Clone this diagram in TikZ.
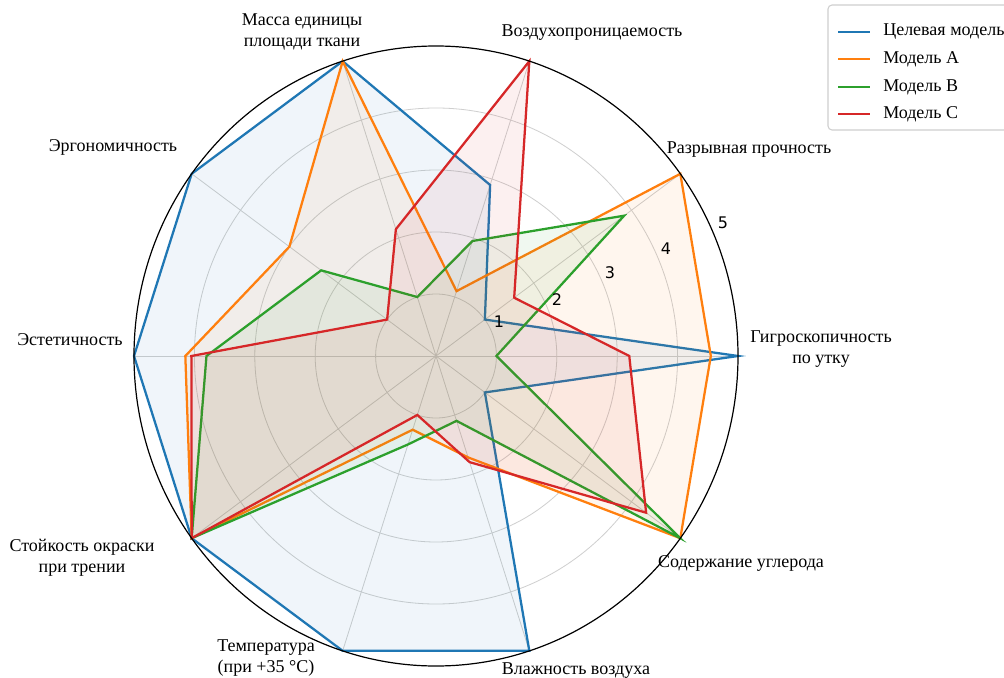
\documentclass[tikz,border=0pt]{standalone}
\usepackage{fontspec}
\setmainfont{Liberation Serif}
\newfontfamily\tickfont{DejaVu Sans}
\definecolor{cblue}{HTML}{1F77B4}
\definecolor{corange}{HTML}{FF7F0E}
\definecolor{cgreen}{HTML}{2CA02C}
\definecolor{cred}{HTML}{D62728}
\definecolor{gridc}{HTML}{CFCFCF}
\begin{document}
\begin{tikzpicture}[x=0.75pt,y=-0.75pt,
  lab/.style={font=\fontsize{13.5}{16}\selectfont, align=center, inner sep=0pt},
  tick/.style={font=\tickfont\fontsize{12}{14}\selectfont, inner sep=0pt},
  gridline/.style={draw=gridc, line width=0.6pt},
  series/.style={line width=1.7pt, line join=miter, fill opacity=0.065, draw opacity=1}]
\useasboundingbox (0,0) rectangle (1004,678);
\fill[white] (0,0) rectangle (1004,678);

\begin{scope}[shift={(436,356)}, x=45.3pt, y=46.5pt]
  \foreach \r in {1,2,3,4} \draw[gridline] (0,0) circle [radius=\r];
  \foreach \a in {0,36,...,324} \draw[gridline] (0,0) -- (\a:5);
  % Целевая модель
  \draw[series, draw=cblue, fill=cblue] (0:5) -- (36:1) -- (72:2.9) -- (108:5) -- (144:5) -- (180:5) -- (216:5) -- (252:5) -- (288:5) -- (324:1) -- cycle;
  % Модель A
  \draw[series, draw=corange, fill=corange] (0:4.55) -- (36:5) -- (72:1.1) -- (108:5) -- (144:3) -- (180:4.15) -- (216:5) -- (252:1.25) -- (288:1.72) -- (324:5) -- cycle;
  % Модель B
  \draw[series, draw=cgreen, fill=cgreen] (0:1) -- (36:3.85) -- (72:1.95) -- (108:1) -- (144:2.35) -- (180:3.8) -- (216:5) -- (252:1.5) -- (288:1.1) -- (324:5) -- cycle;
  % Модель C
  \draw[series, draw=cred, fill=cred] (0:3.2) -- (36:1.6) -- (72:5) -- (108:2.15) -- (144:1) -- (180:4.05) -- (216:5) -- (252:1) -- (288:1.8) -- (324:4.3) -- cycle;
  \draw[black, line width=0.9pt] (0,0) circle [radius=5];
\end{scope}

% radial tick labels
\node[tick] (t1) at (499,322) {1};
\node[tick] (t2) at (557,300) {2};
\node[tick] (t3) at (610,273) {3};
\node[tick] (t4) at (666,249) {4};
\node[tick] (t5) at (723,223) {5};

% axis labels
\node[lab] (l0) at (821,349) {Гигроскопичность\\по утку};
\node[lab] (l1) at (749,150) {Разрывная прочность};
\node[lab] (l2) at (592,33) {Воздухопроницаемость};
\node[lab] (l3) at (302,32) {Масса единицы\\площади ткани};
\node[lab] (l4) at (113,147) {Эргономичность};
\node[lab] (l5) at (70,340) {Эстетичность};
\node[lab] (l6) at (82,558) {Стойкость окраски\\при трении};
\node[lab] (l7) at (266,658) {Температура\\(при +35 °C)};
\node[lab] (l8) at (576,671) {Влажность воздуха};
\node[lab] (l9) at (741,563) {Содержание углерода};

% legend
\draw[draw=gridc, line width=0.8pt, rounded corners=3pt, fill=white] (828,5) rectangle (1015,130);
\foreach \c/\t/\y [count=\i] in {cblue/Целевая модель/32, corange/Модель A/59, cgreen/Модель B/87, cred/Модель C/114} {
  \draw[\c, line width=1.7pt] (838,\y) -- (870,\y);
  \node[lab, anchor=west] (leg\i) at (883,\y) {\t};
}
\end{tikzpicture}
\end{document}
